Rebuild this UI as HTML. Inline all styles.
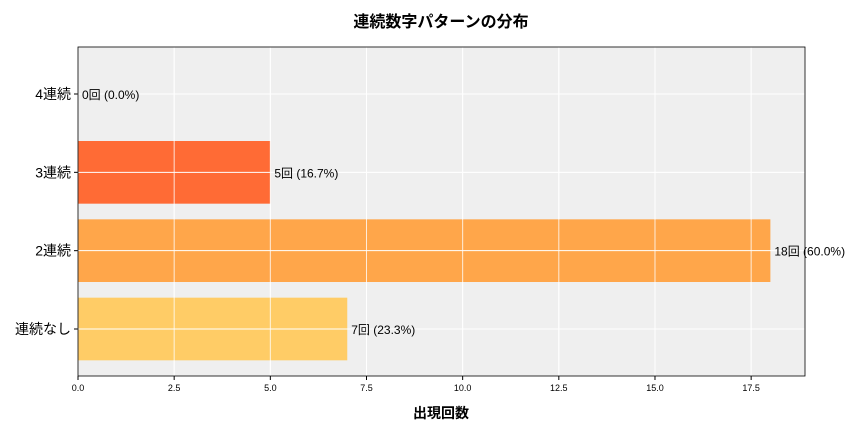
<!DOCTYPE html>
<html><head><meta charset="utf-8"><style>
body{margin:0;background:#fff;font-family:"Liberation Sans","Noto Sans CJK JP",sans-serif}
</style></head><body>
<svg id="chart" width="864" height="432" xmlns="http://www.w3.org/2000/svg" font-family="Liberation Sans, Noto Sans CJK JP, sans-serif"></svg>
<script>
const categories=["連続なし","2連続","3連続","4連続"];
const counts=[7,18,5,0];
const percents=["23.3","60.0","16.7","0.0"];
const colors=["#FFCC66","#FFA64A","#FF6B35","#FF4500"];
const xTicks=[0,2.5,5,7.5,10,12.5,15,17.5];
const X0=78,X1=805,Y0=47,Y1=376,XMAX=18.9;
const svg=document.getElementById('chart');
const NS="http://www.w3.org/2000/svg";
const xs=v=>X0+v/XMAX*(X1-X0);
const ys=i=>Y1-(i+0.6)/4.2*(Y1-Y0);
const bw=0.8/4.2*(Y1-Y0);
function mk(t,a,txt){const e=document.createElementNS(NS,t);for(const k in a)e.setAttribute(k,a[k]);if(txt!==undefined)e.textContent=txt;svg.appendChild(e);return e;}
let e;
e=mk('rect',{x:X0,y:Y0,width:X1-X0,height:Y1-Y0,fill:'#EFEFEF'});


xTicks.forEach(t=>{
 e=mk('line',{x1:xs(t),x2:xs(t),y1:Y0,y2:Y1,stroke:'#fff','stroke-width':1});
 
 
 e=mk('line',{x1:xs(t),x2:xs(t),y1:Y1,y2:Y1+4,stroke:'#000'});
 
 
 e=mk('text',{x:xs(t),y:Y1+15,'font-size':9,'text-anchor':'middle'},t.toFixed(1));
 
 
});
categories.forEach((c,i)=>{
 e=mk('line',{x1:X0,x2:X1,y1:ys(i),y2:ys(i),stroke:'#fff','stroke-width':1});
 
 
});
categories.forEach((c,i)=>{
 e=mk('rect',{x:X0,y:ys(i)-bw/2,width:xs(counts[i])-X0,height:bw,fill:colors[i]});
 
 
 e=mk('line',{x1:X0,x2:X1,y1:ys(i),y2:ys(i),stroke:'#fff','stroke-width':1});
 
 
 e=mk('line',{x1:X0-4,x2:X0,y1:ys(i),y2:ys(i),stroke:'#000'});
 
 
 e=mk('text',{x:X0-7,y:ys(i)+5,'font-size':14,'text-anchor':'end'},c);
 
 
 e=mk('text',{x:xs(counts[i])+4,y:ys(i)+5,'font-size':12},counts[i]+'回 ('+percents[i]+'%)');
 
 
});
xTicks.forEach(t=>{
 e=mk('line',{x1:xs(t),x2:xs(t),y1:Y0,y2:Y1,stroke:'#fff','stroke-width':1,'stroke-opacity':0.8});
 
 
});
e=mk('rect',{x:X0,y:Y0,width:X1-X0,height:Y1-Y0,fill:'none',stroke:'#000','stroke-width':0.8});


e=mk('text',{x:441,y:418,'font-size':14,'text-anchor':'middle','font-weight':'bold'},'出現回数');


e=mk('text',{x:441,y:27,'font-size':16,'text-anchor':'middle','font-weight':'bold'},'連続数字パターンの分布');


</script>
</body></html>
